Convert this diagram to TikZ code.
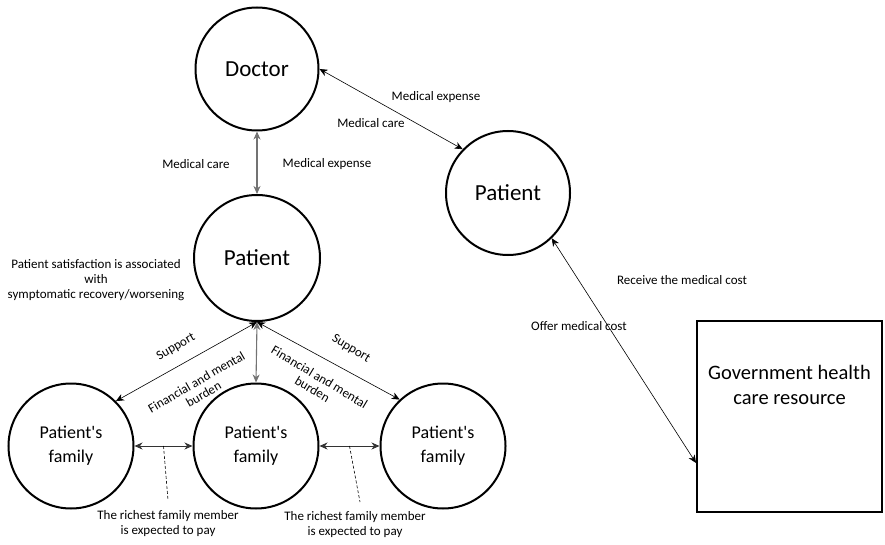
\documentclass[tikz,border=0pt]{standalone}
\usepackage{fontspec}
\setmainfont{Carlito}
\usetikzlibrary{calc,arrows.meta}

\tikzset{
  bubble/.style={circle, draw, line width=2pt, minimum size=#1, inner sep=0pt, align=center},
  big/.style={font=\fontsize{23}{28}\selectfont},
  fam/.style={font=\fontsize{18}{24}\selectfont},
  note/.style={font=\fontsize{13}{15}\selectfont, align=center, inner sep=0pt},
  link/.style={{Stealth[length=8pt,width=7pt,inset=2.5pt]}-{Stealth[length=8pt,width=7pt,inset=2.5pt]}, line width=0.6pt},
  greylink/.style={link, line width=1.1pt, draw=black!55},
}

\begin{document}
\begin{tikzpicture}[x=1pt,y=-1pt]
\useasboundingbox (0,0) rectangle (885,545);

% doctor and the two patients
\node[bubble=123pt, big] (doc) at (257,69) {Doctor};
\node[bubble=126pt, big] (pat) at (257,258) {Patient};
\node[bubble=124pt, big] (pat2) at (508,193) {Patient};

% families
\foreach \n/\x in {fam1/71, fam2/256, fam3/443}
{	\node[bubble=125pt, fam] (\n) at (\x,446) {Patient\textquotesingle s\\family};
}

% government box
\node[draw, line width=2pt, minimum width=185pt, minimum height=191pt] (gov) at (789.5,416.5) {};
\node[align=center, font=\fontsize{20.5}{25}\selectfont] (govtext) at ([yshift=31.5pt]gov.center) {Government health\\care resource};

% connectors
\draw[greylink] (doc.south) -- (pat.north);
\draw[link] (doc.east) -- (pat2.136);
\draw[link] (pat2.-46) -- ([yshift=-46.5pt]gov.west);
\draw[link] (pat.south) -- (fam1.45);
\draw[greylink] (pat.south) -- (fam2.north);
\draw[link] (pat.south) -- (fam3.133);
\draw[link, line width=0.9pt, draw=black!80] (fam1.east) -- (fam2.west);
\draw[link, line width=0.9pt, draw=black!80] (fam2.east) -- (fam3.west);

% dashed pointers to the notes
\coordinate (mid1) at ($(fam1.east)!0.5!(fam2.west)$);
\coordinate (mid2) at ($(fam2.east)!0.5!(fam3.west)$);
\coordinate (tip1) at (168,500);
\coordinate (tip2) at (360,502);
\draw[line width=0.6pt, dash pattern=on 3pt off 2pt] (mid1) -- (tip1);
\draw[line width=0.6pt, dash pattern=on 3pt off 2pt] (mid2) -- (tip2);

% labels
\node[note] (care1) at (196,164) {Medical care};
\node[note] (exp1) at (327,164) {Medical expense};
\node[note] (exp2) at (436,97) {Medical expense};
\node[note] (care2) at (371,123) {Medical care};
\node[note] (recv) at (682,280) {Receive the medical cost};
\node[note] (offer) at (579,326) {Offer medical cost};
\node[note] (satis) at (96,280) {Patient satisfaction is associated\\with\\symptomatic recovery/worsening};
\node[note, rotate=30] (sup1) at (176,347) {Support};
\node[note, rotate=-31] (sup2) at (351,349) {Support};
\node[note, rotate=30, font=\fontsize{13}{14}\selectfont] (burd1) at (200,388) {Financial and mental\\burden};
\node[note, rotate=-31, font=\fontsize{13}{14}\selectfont] (burd2) at (316,383) {Financial and mental\\burden};
\node[note] (rich1) at (168,524) {The richest family member\\is expected to pay};
\node[note] (rich2) at (355,525) {The richest family member\\is expected to pay};
\end{tikzpicture}
\end{document}
